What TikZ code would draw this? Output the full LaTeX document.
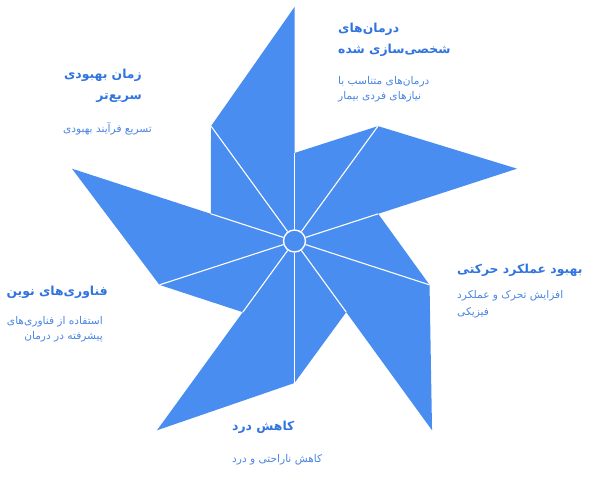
\documentclass[tikz,border=0pt]{standalone}
\usepackage{fontspec}
\TeXXeTstate=1
\newfontfamily\farsifont[Script=Arabic]{DejaVu Sans}
\newcommand{\fa}[1]{\beginR #1\endR}
\definecolor{pinblue}{RGB}{74,141,240}
\definecolor{headblue}{RGB}{48,116,224}
\definecolor{noteblue}{RGB}{74,132,228}

\begin{document}
\begin{tikzpicture}[%
  x=1pt, y=1pt,
  blade/.style={fill=pinblue},
  spoke/.style={draw=white, line width=1.1pt},
  head/.style={text=headblue, inner sep=0pt, font=\farsifont\bfseries\fontsize{12.4}{21}\selectfont},
  note/.style={text=noteblue, inner sep=0pt, font=\farsifont\fontsize{10.6}{15.5}\selectfont}]
  \useasboundingbox (0,0) rectangle (590,494);
  \begin{scope}[shift={(294.5,253)}]
    \coordinate (tip1) at (90:234);
    \coordinate (out1) at (126:142);
    \coordinate (inn1) at (162:88);
    \coordinate (tip2) at (162:234);
    \coordinate (out2) at (198:142);
    \coordinate (inn2) at (234:88);
    \coordinate (tip3) at (234:234);
    \coordinate (out3) at (270:142);
    \coordinate (inn3) at (306:88);
    \coordinate (tip4) at (306:234);
    \coordinate (out4) at (342:142);
    \coordinate (inn4) at (18:88);
    \coordinate (tip5) at (18:234);
    \coordinate (out5) at (54:142);
    \coordinate (inn5) at (90:88);
    \fill[blade] (0,0) -- (tip1) -- (out1) -- (inn1) -- cycle;
    \fill[blade] (0,0) -- (tip2) -- (out2) -- (inn2) -- cycle;
    \fill[blade] (0,0) -- (tip3) -- (out3) -- (inn3) -- cycle;
    \fill[blade] (0,0) -- (tip4) -- (out4) -- (inn4) -- cycle;
    \fill[blade] (0,0) -- (tip5) -- (out5) -- (inn5) -- cycle;
    \node[circle, minimum size=22pt, fill=pinblue, draw=white, line width=1.4pt] (hub) at (0,0) {};
    \draw[spoke] (hub) -- (out1);
    \draw[spoke] (hub) -- (inn1);
    \draw[spoke] (hub) -- (out2);
    \draw[spoke] (hub) -- (inn2);
    \draw[spoke] (hub) -- (out3);
    \draw[spoke] (hub) -- (inn3);
    \draw[spoke] (hub) -- (out4);
    \draw[spoke] (hub) -- (inn4);
    \draw[spoke] (hub) -- (out5);
    \draw[spoke] (hub) -- (inn5);
  \end{scope}
  \node[head, anchor=west, align=left] (careTitle) at (338,454) {\fa{درمان‌های}\\\fa{شخصی‌سازی شده}};
  \node[note, anchor=west, align=left] (careNote) at (338,404.5) {\fa{درمان‌های متناسب با}\\\fa{نیازهای فردی بیمار}};
  \node[head, anchor=east, align=right] (fastTitle) at (142,408) {\fa{زمان بهبودی}\\\fa{سریع‌تر}};
  \node[note, anchor=east] (fastNote) at (152,365) {\fa{تسریع فرآیند بهبودی}};
  \node[head, anchor=west] (moveTitle) at (457,224) {\fa{بهبود عملکرد حرکتی}};
  \node[note, anchor=west, align=left] (moveNote) at (457,190) {\fa{افزایش تحرک و عملکرد}\\[1.5pt]\fa{فیزیکی}};
  \node[head, anchor=east] (techTitle) at (108,202) {\fa{فناوری‌های نوین}};
  \node[note, anchor=east, align=right] (techNote) at (103,164.5) {\fa{استفاده از فناوری‌های}\\\fa{پیشرفته در درمان}};
  \node[head, anchor=west] (painTitle) at (232,67) {\fa{کاهش درد}};
  \node[note, anchor=west] (painNote) at (232,34) {\fa{کاهش ناراحتی و درد}};
\end{tikzpicture}
\end{document}
